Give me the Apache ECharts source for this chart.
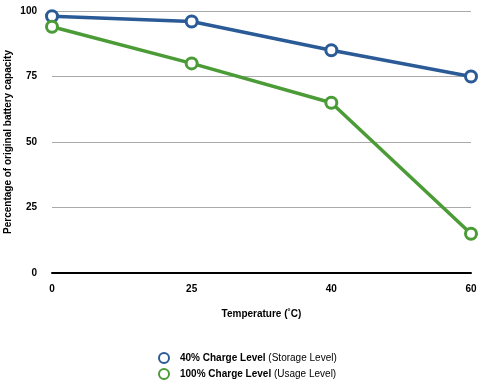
<!DOCTYPE html>
<html><head><meta charset="utf-8">
<script src="https://cdn.jsdelivr.net/npm/echarts@6/dist/echarts.min.js"></script>
<style>html,body{margin:0;padding:0;background:#fff}#c{width:480px;height:387px}</style>
</head><body><div id="c"></div>
<script>
const categories = ['0', '25', '40', '60'];
const storageValues = [98, 96, 85, 75];
const usageValues = [94, 80, 65, 15];
const yTicks = [0, 25, 50, 75, 100];
const seriesNames = ['40% Charge Level (Storage Level)', '100% Charge Level (Usage Level)'];

const chart = echarts.init(document.getElementById('c'));
const FONT = '"Liberation Sans", Arial, sans-serif';
const BLUE = '#2b5b97', GREEN = '#4b9b37';
function mk(name, data, color) {
  return {
    name, type: 'line', data,
    symbol: 'circle', symbolSize: 11,
    lineStyle: { color, width: 3.5 },
    itemStyle: { color: '#fff', borderColor: color, borderWidth: 3 },
    emphasis: { disabled: true }, animation: false
  };
}
chart.setOption({
  animation: false,
  grid: { left: 52, right: 9, top: 11, bottom: 114, outerBoundsMode: 'none', containLabel: false },
  xAxis: {
    type: 'category', data: categories, boundaryGap: false,
    name: 'Temperature (˚C)', nameLocation: 'middle', nameGap: 36, nameMoveOverlap: false,
    nameTextStyle: { fontFamily: FONT, fontWeight: 'bold', fontSize: 10, color: '#000' },
    axisLine: { lineStyle: { color: '#000', width: 2 } },
    axisTick: { show: false },
    axisLabel: { fontFamily: FONT, fontWeight: 'bold', fontSize: 10, color: '#000', margin: 11 }
  },
  yAxis: {
    type: 'value', min: yTicks[0], max: yTicks[yTicks.length - 1], interval: 25,
    name: 'Percentage of original battery capacity', nameLocation: 'middle', nameGap: 39, nameMoveOverlap: false,
    nameTextStyle: { fontFamily: FONT, fontWeight: 'bold', fontSize: 10, color: '#000' },
    axisLine: { show: false }, axisTick: { show: false },
    axisLabel: { fontFamily: FONT, fontWeight: 'bold', fontSize: 10, color: '#000', margin: 15 },
    splitLine: { lineStyle: { color: '#aaa', width: 1 } }
  },
  legend: {
    orient: 'vertical', left: 158, top: 352, itemGap: 4, padding: 0, height: 35,
    itemWidth: 10, itemHeight: 10, icon: 'circle',
    data: seriesNames,
    formatter: function (n) {
      const i = n.indexOf('(');
      return '{b|' + n.slice(0, i) + '}{n|' + n.slice(i) + '}';
    },
    textStyle: {
      fontFamily: FONT, fontSize: 10, color: '#000',
      rich: {
        b: { fontFamily: FONT, fontSize: 10, fontWeight: 'bold', color: '#000', padding: [0, 0, 0, 6] },
        n: { fontFamily: FONT, fontSize: 10, color: '#000' }
      }
    }
  },
  series: [mk(seriesNames[0], storageValues, BLUE), mk(seriesNames[1], usageValues, GREEN)]
});
</script></body></html>
